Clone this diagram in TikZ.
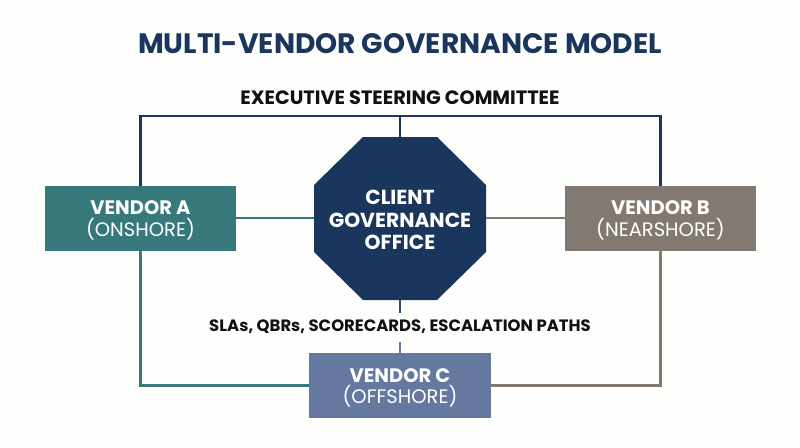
\documentclass[tikz,border=0pt]{standalone}
\usepackage{fontspec}
\setmainfont{Poppins}
\usetikzlibrary{calc}
\pgfdeclarelayer{back}
\pgfsetlayers{back,main}
\definecolor{navy}{HTML}{1B365D}
\definecolor{tealv}{HTML}{37787A}
\definecolor{grayv}{HTML}{827A72}
\definecolor{bluev}{HTML}{65789F}
\definecolor{paper}{HTML}{FEFEFD}
\definecolor{inkt}{HTML}{0F1114}
\tikzset{
  x=1pt,y=-1pt,
  vendor/.style={rectangle,minimum width=#1,minimum height=65,inner sep=0,outer sep=0},
  vtext/.style={inner sep=0,text=white,align=center,yshift=-2.5,font=\fontsize{19.5}{21.5}\selectfont},
  ctext/.style={inner sep=0,text=white,align=center,yshift=-1.5,font=\bfseries\fontsize{20.3}{22.5}\selectfont},
  link/.style={line width=2.8},
  lab/.style={text=inkt,font=\bfseries\fontsize{19.3}{22}\selectfont,inner sep=0,outer sep=0}
}
\begin{document}
\begin{tikzpicture}
\begin{pgfonlayer}{back}
\useasboundingbox[fill=paper] (0,0) rectangle (800,447);
\end{pgfonlayer}
\node[inner sep=0,text=navy,font=\bfseries\fontsize{28.1}{32}\selectfont] (title) at (400,44) {MULTI-VENDOR GOVERNANCE MODEL};
\node[lab] (esc) at (400,98) {EXECUTIVE STEERING COMMITTEE};
\coordinate (rail) at (400,116);
\node[vendor=191,fill=tealv,label={[vtext]center:{\textbf{VENDOR A}\\(ONSHORE)}}] (va) at (140.5,218) {};
\node[vendor=191,fill=grayv,label={[vtext]center:{\textbf{VENDOR B}\\(NEARSHORE)}}] (vb) at (660.5,218) {};
\node[vendor=182,fill=bluev,label={[vtext]center:{\textbf{VENDOR C}\\(OFFSHORE)}}] (vc) at (400,385.5) {};
\node[rectangle,minimum width=172,minimum height=163,inner sep=0,outer sep=0,label={[ctext]center:{CLIENT\\GOVERNANCE\\OFFICE}}] (cgo) at (400,218.5) {};
\begin{pgfonlayer}{back}
\fill[navy] ($(cgo.north west)+(49,0)$) -- ($(cgo.north east)+(-49,0)$) -- ($(cgo.north east)+(0,48)$) -- ($(cgo.south east)+(0,-48)$) -- ($(cgo.south east)+(-49,0)$) -- ($(cgo.south west)+(49,0)$) -- ($(cgo.south west)+(0,-48)$) -- ($(cgo.north west)+(0,48)$) -- cycle;
\end{pgfonlayer}
\node[inner sep=0,outer sep=0,minimum height=29,text=inkt,font=\bfseries\fontsize{16.45}{19}\selectfont] (sla) at (400,327) {SLAs, QBRs, SCORECARDS, ESCALATION PATHS};
\draw[link,navy] (va.north) |- (rail) -| (vb.north);
\draw[link,navy] (rail) -- (cgo.north);
\draw[link,tealv] (va.east) -- (va.east -| cgo.west);
\draw[link,grayv] (vb.west) -- (vb.west -| cgo.east);
\draw[link,tealv] (va.south) |- (vc.west);
\draw[link,grayv] (vb.south) |- (vc.east);
\draw[link,navy!70!bluev] (cgo.south) -- (sla.north);
\draw[link,bluev] (sla.south) -- (vc.north);
\end{tikzpicture}
\end{document}
